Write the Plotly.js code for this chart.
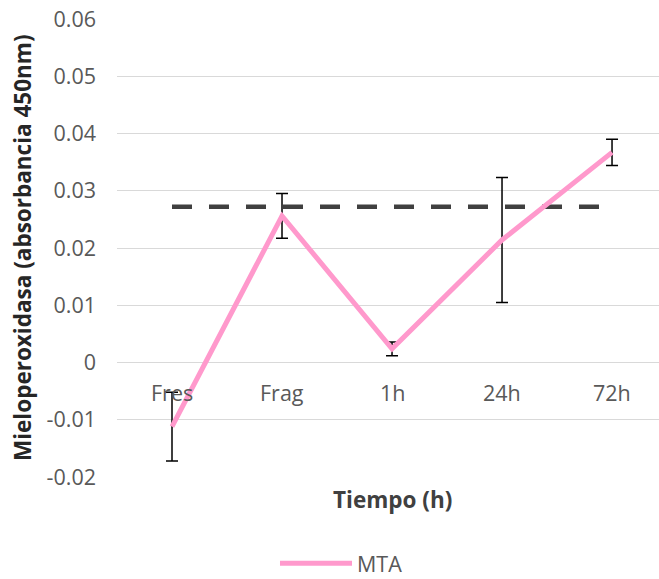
<!DOCTYPE html>
<html>
<head>
<meta charset="utf-8">
<script src="https://cdn.plot.ly/plotly-3.0.1.min.js"></script>
<style>html,body{margin:0;padding:0;background:#fff;}#chart{width:659px;height:579px;}</style>
</head>
<body>
<div id="chart"></div>
<script>
var categories = ["Fres", "Frag", "1h", "24h", "72h"];
var mtaValues = [-0.0112, 0.0256, 0.0024, 0.0214, 0.0367];
var mtaErrors = [0.0060, 0.0039, 0.0012, 0.0109, 0.0023];
var referenceValues = [0.0272, 0.0272, 0.0272, 0.0272, 0.0272];
var yTickVals = [-0.02, -0.01, 0, 0.01, 0.02, 0.03, 0.04, 0.05, 0.06];
var yTickText = ["-0.02", "-0.01", "0", "0.01", "0.02", "0.03", "0.04", "0.05", "0.06"];

var FONT = "'Open Sans', 'DejaVu Sans', sans-serif";
var idx = categories.map(function (c, i) { return i; });

var traces = [
  {
    x: idx, y: referenceValues, type: "scatter", mode: "lines",
    line: {color: "#404040", width: 4.5, dash: "20px,17px"},
    showlegend: false, hoverinfo: "skip"
  },
  {
    x: idx, y: mtaValues, type: "scatter", mode: "lines", name: "MTA",
    line: {color: "#FF99CC", width: 5},
    error_y: {type: "data", array: mtaErrors, visible: true, color: "#000000", thickness: 1.5, width: 6}
  }
];

var annotations = categories.map(function (c, i) {
  return {x: i, y: 0, xref: "x", yref: "y", text: c, showarrow: false,
    yshift: -30, yanchor: "middle", font: {family: FONT, size: 21.5, color: "#595959"}};
});
annotations.push({
  x: 0, y: 0.5, xref: "paper", yref: "paper", xshift: -95, textangle: -90,
  text: "<b>Mieloperoxidasa (absorbancia 450nm)</b>", showarrow: false,
  xanchor: "center", yanchor: "middle",
  font: {family: FONT, size: 22.5, color: "#262626"}
});
annotations.push({
  x: 2, y: 0, xref: "x", yref: "paper", yshift: -22,
  text: "<b>Tiempo (h)</b>", showarrow: false, xanchor: "center", yanchor: "middle",
  font: {family: FONT, size: 22.5, color: "#404040"}
});

var layout = {
  width: 659, height: 579,
  margin: {l: 117, r: 0, t: 19, b: 102},
  paper_bgcolor: "#ffffff", plot_bgcolor: "#ffffff",
  font: {family: FONT, size: 21.5, color: "#595959"},
  xaxis: {
    range: [-0.5, 4.427], showgrid: false, zeroline: false, showline: false,
    showticklabels: false, ticks: "", fixedrange: true
  },
  yaxis: {
    range: [-0.02, 0.06], tickvals: yTickVals, ticktext: yTickText,
    showgrid: true, gridcolor: "#d9d9d9", gridwidth: 1,
    zeroline: false, showline: false, ticks: "", ticklabelstandoff: 20,
    tickfont: {family: FONT, size: 21.5, color: "#595959"}, fixedrange: true
  },
  showlegend: true,
  legend: {
    orientation: "h", x: 0.2915, xanchor: "left",
    yref: "container", y: 0.027, yanchor: "middle",
    itemwidth: 72, tracegroupgap: 0,
    font: {family: FONT, size: 21.5, color: "#595959"}, bgcolor: "rgba(0,0,0,0)"
  },
  annotations: annotations
};

Plotly.newPlot("chart", traces, layout, {displayModeBar: false, staticPlot: true});
</script>
</body>
</html>
